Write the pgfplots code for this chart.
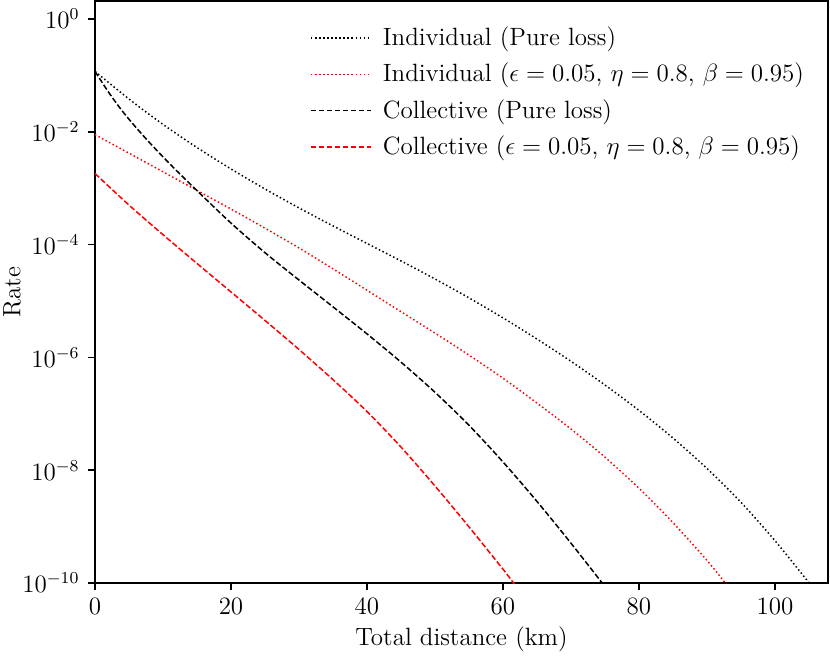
\documentclass[12pt,border=0pt]{standalone}
\usepackage{pgfplots}
\pgfplotsset{compat=1.18}
\begin{document}
\begin{tikzpicture}
\begin{axis}[
  name=ax,
  scale only axis,
  width=351.84pt, height=279.36pt,
  ymode=log,
  xmin=0, xmax=107.8,
  ymin=1e-10, ymax=2.08,
  xtick={0,20,40,60,80,100},
  ytick={1,1e-2,1e-4,1e-6,1e-8,1e-10},
  minor ytick={}, minor xtick={},
  tick align=outside,
  xtick pos=bottom, ytick pos=left,
  major tick length=3.26pt,
  axis line style={line width=0.77pt},
  every tick/.style={black, line width=0.77pt},
  xlabel={Total distance (km)},
  ylabel={Rate},
  xlabel style={at={(axis description cs:0.5,-0.097)}, anchor=center},
  ylabel style={at={(axis description cs:-0.1132,0.5)}, anchor=center},
  legend style={at={(axis description cs:0.982,0.9706)}, anchor=north east, draw=none, fill=none, row sep=2.6pt},
  legend cell align=left,
  legend image code/.code={\draw[#1] (0pt,0pt) -- (28.8pt,0pt); \path (32.2pt,0pt);},
]
\addlegendimage{black, line width=0.8pt, dash pattern=on 0.8pt off 1.15pt}
\addlegendentry{Individual (Pure loss)}
\addlegendimage{red, line width=0.8pt, dash pattern=on 0.8pt off 1.15pt}
\addlegendentry{Individual ($\epsilon=0.05$, $\eta=0.8$, $\beta=0.95$)}
\addlegendimage{black, line width=0.8pt, dash pattern=on 2.69pt off 1.15pt}
\addlegendentry{Collective (Pure loss)}
\addlegendimage{red, line width=0.8pt, dash pattern=on 2.69pt off 1.15pt}
\addlegendentry{Collective ($\epsilon=0.05$, $\eta=0.8$, $\beta=0.95$)}
\addplot[forget plot, black, line width=0.72pt, dash pattern=on 0.72pt off 1.2pt, smooth] coordinates {
(0,1.175e-1) (5,3.802e-2) (10,1.349e-2) (15,5.248e-3) (20,2.188e-3) (25,9.661e-4)
(30,4.467e-4) (35,2.138e-4) (40,1.047e-4) (45,5.129e-5) (50,2.455e-5) (55,1.135e-5)
(60,5.012e-6) (65,2.113e-6) (70,8.511e-7) (75,3.236e-7) (80,1.148e-7) (85,3.715e-8)
(90,1.072e-8) (95,2.692e-9) (100,5.623e-10) (104.9,1.047e-10) (105.5,8.511e-11)
};
\addplot[forget plot, red, line width=0.72pt, dash pattern=on 0.72pt off 1.2pt, smooth] coordinates {
(0,8.913e-3) (5,4.169e-3) (10,1.950e-3) (15,9.120e-4) (20,4.266e-4) (25,1.950e-4)
(30,8.710e-5) (35,3.715e-5) (40,1.549e-5) (45,6.457e-6) (50,2.692e-6) (55,1.096e-6)
(60,4.266e-7) (65,1.549e-7) (70,5.370e-8) (75,1.698e-8) (80,4.786e-9) (85,1.175e-9)
(90,2.512e-10) (92.5,1.072e-10) (93,8.913e-11)
};
\addplot[forget plot, black, line width=0.72pt, dash pattern=on 2.69pt off 1.15pt, smooth] coordinates {
(0,1.175e-1) (2,5.012e-2) (4,2.344e-2) (6,1.202e-2) (8,6.457e-3) (10,3.589e-3)
(12,2.042e-3) (15,9.036e-4) (20,2.404e-4) (25,7.178e-5) (30,2.350e-5) (35,7.870e-6)
(40,2.606e-6) (45,8.241e-7) (50,2.404e-7) (55,6.252e-8) (60,1.400e-8) (65,2.793e-9)
(70,5.082e-10) (75,8.630e-11)
};
\addplot[forget plot, red, line width=0.72pt, dash pattern=on 2.69pt off 1.15pt, smooth] coordinates {
(0,1.820e-3) (5,5.012e-4) (10,1.496e-4) (15,4.624e-5) (20,1.445e-5) (25,4.519e-6)
(30,1.380e-6) (35,4.027e-7) (40,1.096e-7) (45,2.570e-8) (50,5.248e-9) (55,9.886e-10)
(60,1.758e-10) (61.5,1.023e-10) (62,8.511e-11)
};
\end{axis}
\pgfresetboundingbox
\path ([shift={(-45.6pt,-35.04pt)}]ax.south west) rectangle ([shift={(0.96pt,0.48pt)}]ax.north east);
\end{tikzpicture}
\end{document}
